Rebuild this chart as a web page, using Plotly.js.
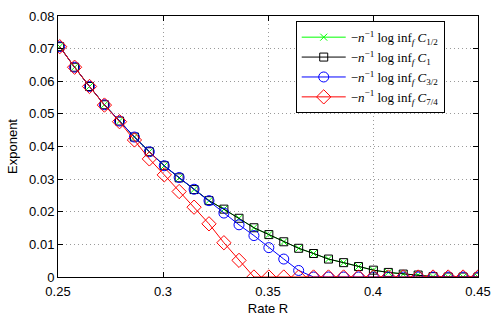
<!DOCTYPE html>
<html>
<head>
<meta charset="utf-8">
<script src="https://cdn.plot.ly/plotly-3.0.1.min.js"></script>
<style>html,body{margin:0;padding:0;background:#fff;}#chart{width:498px;height:316px;}</style>
</head>
<body>
<div id="chart"></div>
<script>
var rate = [0.2508, 0.2579, 0.2650, 0.2721, 0.2793, 0.2864, 0.2935, 0.3006, 0.3077, 0.3148,
            0.3219, 0.3290, 0.3362, 0.3433, 0.3504, 0.3575, 0.3646, 0.3717, 0.3788, 0.3860,
            0.3931, 0.4002, 0.4073, 0.4144, 0.4215, 0.4286, 0.4358, 0.4429, 0.4500];
var expHalf = [0.0706, 0.0643, 0.0584, 0.0528, 0.0478, 0.0429, 0.0384, 0.0341, 0.0304, 0.0268,
               0.0234, 0.0208, 0.0180, 0.0151, 0.0130, 0.0108, 0.0088, 0.0072, 0.0055, 0.0044,
               0.0032, 0.0021, 0.0014, 0.0009, 0.0006, 0.0001, 0, 0, 0];
var expOne = [0.0706, 0.0643, 0.0584, 0.0528, 0.0478, 0.0429, 0.0384, 0.0341, 0.0304, 0.0268,
              0.0234, 0.0208, 0.0180, 0.0151, 0.0130, 0.0108, 0.0088, 0.0072, 0.0055, 0.0044,
              0.0032, 0.0021, 0.0014, 0.0009, 0.0006, 0.0001, 0, 0, 0];
var expThreeHalf = [0.0706, 0.0643, 0.0584, 0.0528, 0.0478, 0.0429, 0.0384, 0.0341, 0.0305, 0.0269,
                    0.0234, 0.0196, 0.0160, 0.0127, 0.0090, 0.0055, 0.0020, 0, 0, 0,
                    0, 0, 0, 0, 0, 0, 0, 0, 0];
var expSevenQuarter = [0.0706, 0.0643, 0.0584, 0.0527, 0.0476, 0.0420, 0.0362, 0.0313, 0.0262, 0.0214,
                       0.0163, 0.0105, 0.0051, 0, 0, 0, 0, 0, 0, 0,
                       0, 0, 0, 0, 0, 0, 0, 0, 0];
var seriesNames = [
  '\u2212<i>n</i><sup>\u22121</sup> log inf<sub><i>f</i></sub> <i>C</i><sub>1/2</sub>',
  '\u2212<i>n</i><sup>\u22121</sup> log inf<sub><i>f</i></sub> <i>C</i><sub>1</sub>',
  '\u2212<i>n</i><sup>\u22121</sup> log inf<sub><i>f</i></sub> <i>C</i><sub>3/2</sub>',
  '\u2212<i>n</i><sup>\u22121</sup> log inf<sub><i>f</i></sub> <i>C</i><sub>7/4</sub>'
];
var xTicks = [0.25, 0.3, 0.35, 0.4, 0.45];
var yTicks = [0, 0.01, 0.02, 0.03, 0.04, 0.05, 0.06, 0.07, 0.08];

var traces = [
  {x: rate, y: expHalf, name: seriesNames[0], mode: 'lines+markers',
   line: {color: '#00ff00', width: 1}, marker: {symbol: 'x-thin-open', size: 7, color: '#00ff00', line: {width: 1, color: '#00ff00'}}},
  {x: rate, y: expOne, name: seriesNames[1], mode: 'lines+markers',
   line: {color: '#000000', width: 1}, marker: {symbol: 'square-open', size: 8, color: '#000000', line: {width: 1}}},
  {x: rate, y: expThreeHalf, name: seriesNames[2], mode: 'lines+markers',
   line: {color: '#0000ff', width: 1}, marker: {symbol: 'circle-open', size: 10, color: '#0000ff', line: {width: 1}}},
  {x: rate, y: expSevenQuarter, name: seriesNames[3], mode: 'lines+markers',
   line: {color: '#ff0000', width: 1}, marker: {symbol: 'diamond-open', size: 11, color: '#ff0000', line: {width: 1}}}
];

var axisCommon = {
  showline: true, linecolor: '#000', linewidth: 1, mirror: 'ticks',
  ticks: 'inside', ticklen: 5, tickcolor: '#000',
  showgrid: true, gridcolor: '#9a9a9a', griddash: '1px,3px', gridwidth: 1,
  zeroline: false, tickfont: {family: 'Liberation Sans, Arial, sans-serif', size: 13, color: '#000'}
};

var layout = {
  width: 498, height: 316,
  margin: {l: 58, r: 20, t: 16, b: 39},
  paper_bgcolor: '#fff', plot_bgcolor: '#fff',
  showlegend: true,
  xaxis: Object.assign({}, axisCommon, {
    range: [0.25, 0.45], tickvals: xTicks, ticktext: xTicks.map(String), ticklabelstandoff: 2,
    title: {text: 'Rate R', font: {family: 'Liberation Sans, Arial, sans-serif', size: 13, color: '#000'}, standoff: 8}
  }),
  yaxis: Object.assign({}, axisCommon, {
    range: [0, 0.08], tickvals: yTicks, ticktext: yTicks.map(String),
    title: {text: 'Exponent', font: {family: 'Liberation Sans, Arial, sans-serif', size: 13, color: '#000'}, standoff: 8}
  }),
  legend: {
    x: 0.566, y: 0.98, xanchor: 'left', yanchor: 'top',
    bgcolor: '#fff', bordercolor: '#000', borderwidth: 1,
    font: {family: 'Liberation Serif, DejaVu Serif, serif', size: 13, color: '#000'},
    tracegroupgap: 0, itemwidth: 44
  }
};

Plotly.newPlot('chart', traces, layout, {displayModeBar: false, staticPlot: true});
</script>
</body>
</html>
